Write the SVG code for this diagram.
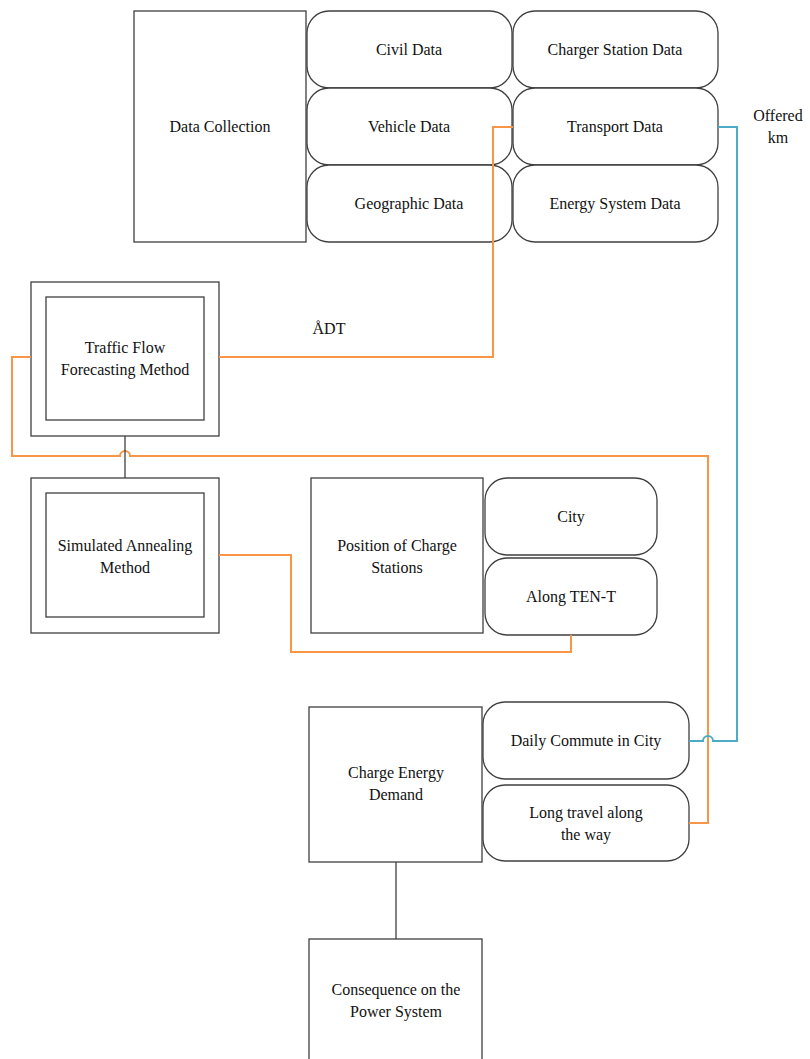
<svg xmlns="http://www.w3.org/2000/svg" width="810" height="1059" viewBox="0 0 810 1059" font-family="'Liberation Serif', 'DejaVu Serif', serif">
<style>
.box{fill:#fff;stroke:#3f3f3f;stroke-width:1.3}
.t{font-size:16px;fill:#111;text-anchor:middle}
.or{fill:none;stroke:#f79646;stroke-width:2}
.bl{fill:none;stroke:#4bacc6;stroke-width:2}
.bk{fill:none;stroke:#3f3f3f;stroke-width:1.3}
</style>
<rect width="810" height="1059" fill="#fff"/>
<g id="data-collection"><rect class="box" x="134" y="11" width="172" height="231"/><text class="t" x="220" y="132">Data Collection</text></g>
<g id="civil-data"><rect class="box" x="307" y="11" width="205" height="77" rx="22"/><text class="t" x="409" y="55">Civil Data</text></g>
<g id="vehicle-data"><rect class="box" x="307" y="88" width="205" height="77" rx="22"/><text class="t" x="409" y="132">Vehicle Data</text></g>
<g id="geographic-data"><rect class="box" x="307" y="165" width="205" height="77" rx="22"/><text class="t" x="409" y="209">Geographic Data</text></g>
<g id="charger-station-data"><rect class="box" x="513" y="11" width="205" height="77" rx="22"/><text class="t" x="615" y="55">Charger Station Data</text></g>
<g id="transport-data"><rect class="box" x="513" y="88" width="205" height="77" rx="22"/><text class="t" x="615" y="132">Transport Data</text></g>
<g id="energy-system-data"><rect class="box" x="513" y="165" width="205" height="77" rx="22"/><text class="t" x="615" y="209">Energy System Data</text></g>
<g id="offered-km"><text class="t" x="778" y="121">Offered</text><text class="t" x="778" y="143">km</text></g>
<g id="adt"><text class="t" x="329" y="334">ÅDT</text></g>
<g id="traffic-flow"><rect class="box" x="31" y="282" width="188" height="154"/><rect class="box" x="46" y="297" width="158" height="123"/><text class="t" x="125" y="353">Traffic Flow</text><text class="t" x="125" y="375">Forecasting Method</text></g>
<g id="simulated-annealing"><rect class="box" x="31" y="478" width="188" height="155"/><rect class="box" x="46" y="493" width="158" height="124"/><text class="t" x="125" y="551">Simulated Annealing</text><text class="t" x="125" y="573">Method</text></g>
<g id="position-charge-stations"><rect class="box" x="311" y="478" width="172" height="155"/><text class="t" x="397" y="551">Position of Charge</text><text class="t" x="397" y="573">Stations</text></g>
<g id="city"><rect class="box" x="485" y="478" width="172" height="77" rx="22"/><text class="t" x="571" y="522">City</text></g>
<g id="along-ten-t"><rect class="box" x="485" y="558" width="172" height="77" rx="22"/><text class="t" x="571" y="602">Along TEN-T</text></g>
<g id="charge-energy-demand"><rect class="box" x="309" y="707" width="173" height="155"/><text class="t" x="396" y="778">Charge Energy</text><text class="t" x="396" y="800">Demand</text></g>
<g id="daily-commute"><rect class="box" x="483" y="702" width="206" height="77" rx="22"/><text class="t" x="586" y="746">Daily Commute in City</text></g>
<g id="long-travel"><rect class="box" x="483" y="785" width="206" height="76" rx="22"/><text class="t" x="586" y="818">Long travel along</text><text class="t" x="586" y="840">the way</text></g>
<g id="consequence"><rect class="box" x="309" y="939" width="173" height="125"/><text class="t" x="396" y="995">Consequence on the</text><text class="t" x="396" y="1017">Power System</text></g>
<g id="connectors">
<path class="or" d="M513,127 H493 V357 H219"/>
<path class="or" d="M31,357 H12 V456 H120 A5,5 0 0 1 130,456 H708 V823 H689"/>
<path class="or" d="M219,555 H291 V652 H571 V635"/>
<path class="bl" d="M718,127 H737 V741 H713 A5,5 0 0 0 703,741 H689"/>
<path class="bk" d="M125,436 V478"/>
<path class="bk" d="M396,862 V939"/>
</g>
</svg>
